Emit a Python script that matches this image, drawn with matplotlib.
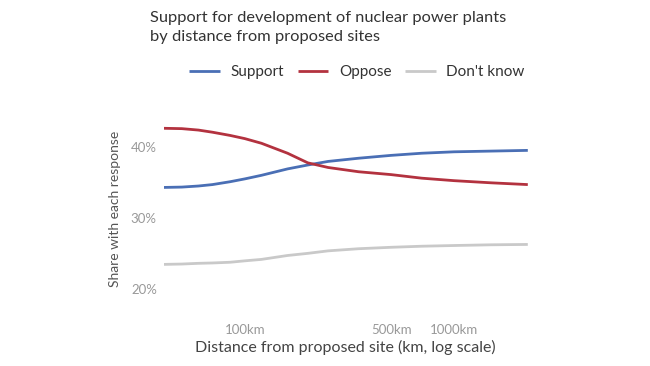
import matplotlib
matplotlib.use("Agg")
import matplotlib.pyplot as plt

plt.rcParams['font.family'] = ['Lato', 'DejaVu Sans']

# distancia a la planta propuesta (km) y porcentaje de cada respuesta
distancia_km = [41, 50, 60, 70, 85, 100, 120, 160, 200, 250, 350, 500, 700, 1000, 1500, 2250]
apoyo = [34.3, 34.35, 34.5, 34.7, 35.1, 35.5, 36.0, 36.9, 37.45, 37.95, 38.4, 38.8, 39.1, 39.3, 39.4, 39.5]
oposicion = [42.6, 42.55, 42.35, 42.05, 41.6, 41.15, 40.5, 39.1, 37.75, 37.1, 36.5, 36.1, 35.6, 35.25, 34.95, 34.7]
no_sabe = [23.5, 23.55, 23.65, 23.7, 23.8, 24.0, 24.2, 24.75, 25.05, 25.4, 25.7, 25.9, 26.05, 26.15, 26.25, 26.3]

series = ["Support", "Oppose", "Don't know"]
colores = ["#4a6fb5", "#b3323f", "#c9c9c9"]

ticks_x = [100, 500, 1000]
etiquetas_x = ["100km", "500km", "1000km"]
ticks_y = [20, 30, 40]
etiquetas_y = ["20%", "30%", "40%"]

fig = plt.figure(figsize=(6.5, 3.66), dpi=100)
ax = fig.add_axes([0.252, 0.19, 0.56, 0.477])

for nombre, valores, color in zip(series, [apoyo, oposicion, no_sabe], colores):
    ax.plot(distancia_km, valores, color=color, lw=2.0, label=nombre,
            solid_capstyle="butt", solid_joinstyle="round")

ax.set_xscale("log")
ax.set_xlim(41, 2250)
ax.set_ylim(19, 43.5)
ax.set_xticks(ticks_x)
ax.set_xticklabels(etiquetas_x)
ax.minorticks_off()
ax.set_yticks(ticks_y)
ax.set_yticklabels(etiquetas_y)
ax.tick_params(length=0, colors="#999999", labelsize=9.5)
ax.tick_params(axis="x", pad=20)
ax.tick_params(axis="y", pad=5)
for s in ax.spines.values():
    s.set_visible(False)

ax.set_ylabel("Share with each response", fontsize=10, color="#555555", labelpad=7)
ax.set_xlabel("Distance from proposed site (km, log scale)", fontsize=11.5,
              color="#444444", labelpad=3)

fig.text(0.231, 0.97, "Support for development of nuclear power plants\nby distance from proposed sites",
         ha="left", va="top", fontsize=11.8, color="#333333", linespacing=1.45)

fig.legend(loc="center", bbox_to_anchor=(0.549, 0.803), ncol=3, frameon=False,
           fontsize=11, handlelength=2.0, columnspacing=0.9, handletextpad=0.7,
           labelcolor="#333333")

fig.savefig("out.png", dpi=100, facecolor="white")
